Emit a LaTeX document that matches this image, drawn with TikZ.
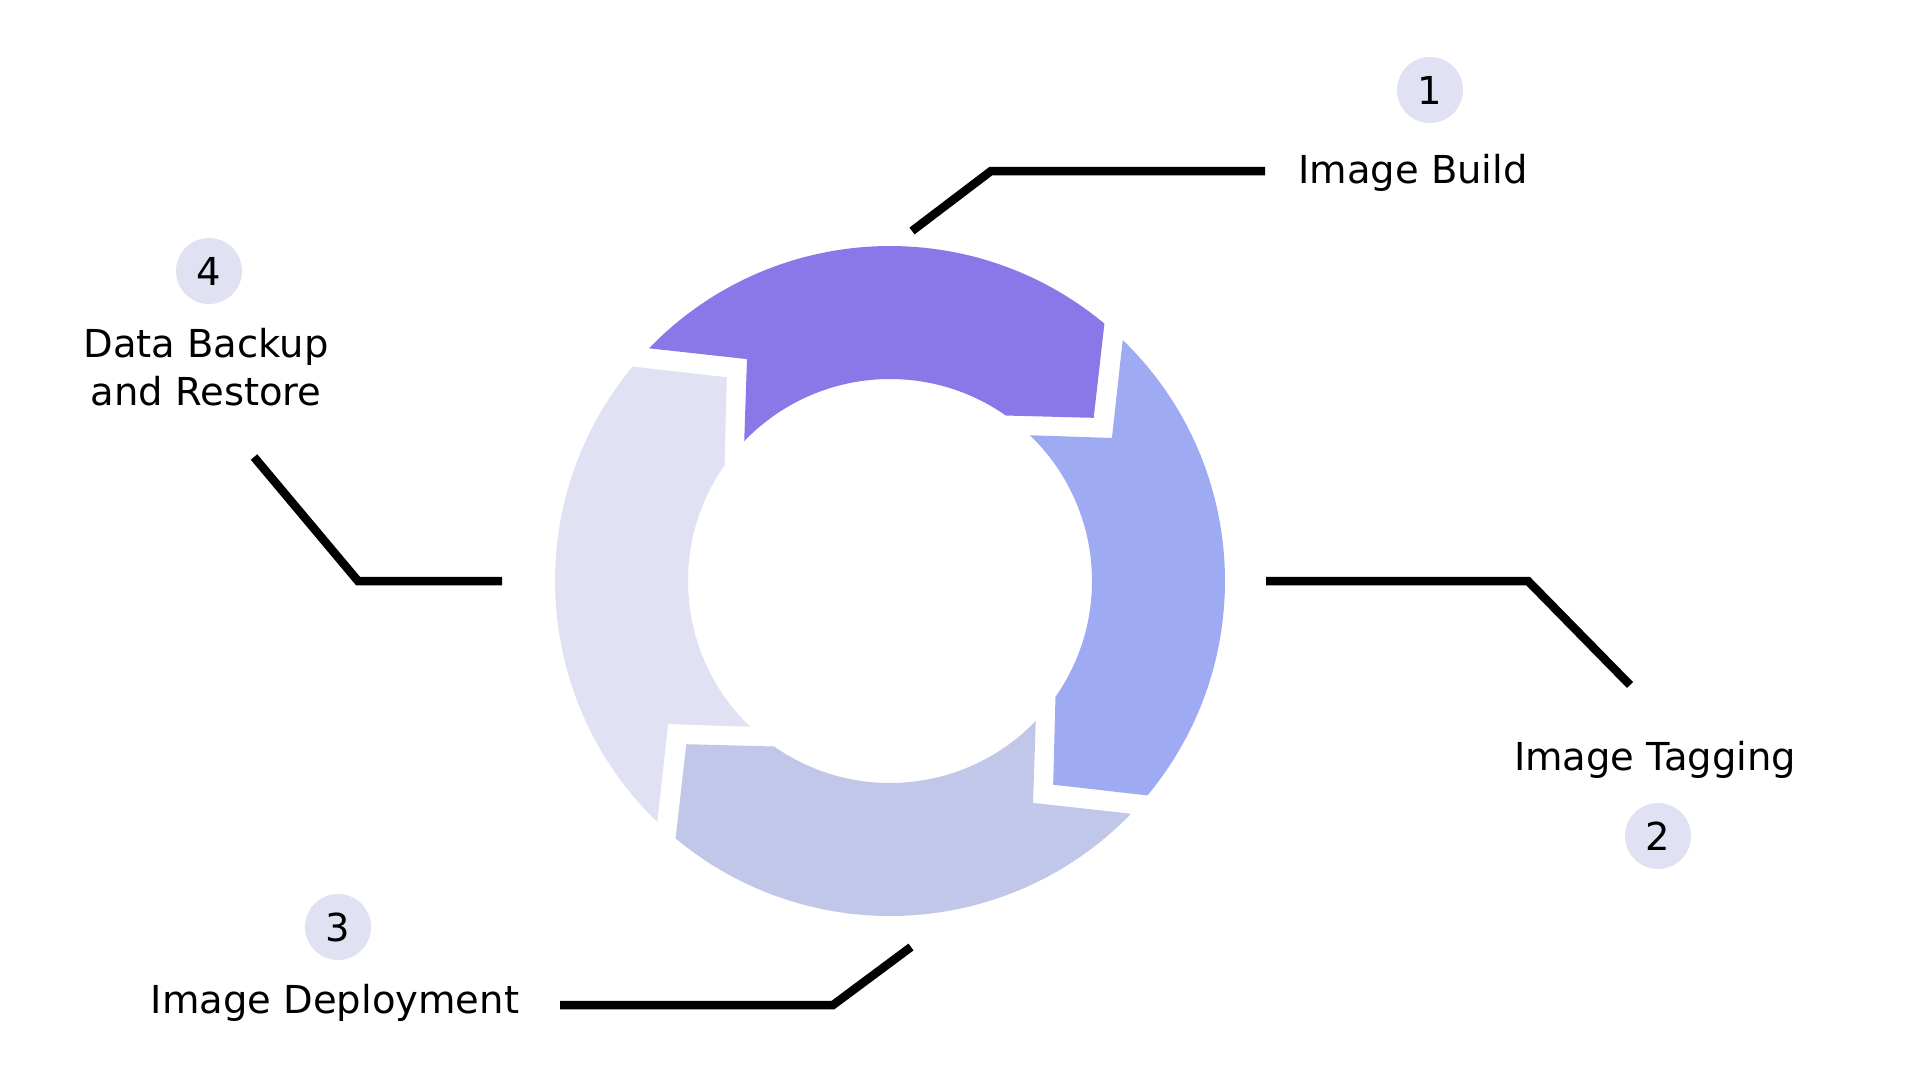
\documentclass[tikz,border=0pt]{standalone}
\usepackage{fontspec}
\setmainfont{DejaVu Sans}
\definecolor{buildcol}{HTML}{8A78E8}
\definecolor{tagcol}{HTML}{9EAAF2}
\definecolor{deploycol}{HTML}{C1C7E8}
\definecolor{backupcol}{HTML}{E0E1F2}
\tikzset{
  leader/.style={draw=black, line width=8.5pt, line join=miter},
  steptext/.style={font=\fontsize{38.5}{48}\selectfont, align=center, inner sep=0pt, anchor=base}
}

\begin{document}
\begin{tikzpicture}[x=1pt, y=-1pt]
        \useasboundingbox (0,0) rectangle (1920,1080);
        % ring of four arrows
        \begin{scope}[shift={(890,581)}, yscale=-1]
            \foreach \a/\col in {0/buildcol, -90/tagcol, -180/deploycol, -270/backupcol}
                \fill[\col] ({\a+136}:335) arc[start angle={\a+136}, end angle={\a+50.2}, radius=335]
                    -- ({\a+38.7}:261) -- ({\a+55}:202)
                    arc[start angle={\a+55}, end angle={\a+136.2}, radius=202]
                    -- ({\a+122.8}:264) -- cycle;
        \end{scope}
        \begin{scope}[every node/.style={fill=backupcol, circle, minimum size=66pt, inner sep=0pt, font=\fontsize{38.5}{45}\selectfont}]
            \node (1) at (1430,90) {1};
            \node (2) at (1658,836) {2};
            \node (3) at (338,927) {3};
            \node (4) at (209,271) {4};
        \end{scope}
        \node[steptext] (t1) at (1413,183) {Image Build};
        \node[steptext] (t2) at (1655,770) {Image Tagging};
        \node[steptext] (t3) at (335,1013) {Image Deployment};
        \node[steptext] (t4) at (206,405) {Data Backup\\and Restore};
        % leader lines
        \coordinate (a1) at (912,231);
        \coordinate (a2) at (991,171);
        \coordinate (a3) at (1265,171);
        \coordinate (b1) at (1266,581);
        \coordinate (b2) at (1528,581);
        \coordinate (b3) at (1630,685);
        \coordinate (c1) at (911,947);
        \coordinate (c2) at (833,1005);
        \coordinate (c3) at (560,1005);
        \coordinate (d1) at (502,581);
        \coordinate (d2) at (358,581);
        \coordinate (d3) at (254,457);
        \draw[leader] (a1) -- (a2) -- (a3);
        \draw[leader] (b1) -- (b2) -- (b3);
        \draw[leader] (c1) -- (c2) -- (c3);
        \draw[leader] (d1) -- (d2) -- (d3);
    \end{tikzpicture}
\end{document}
